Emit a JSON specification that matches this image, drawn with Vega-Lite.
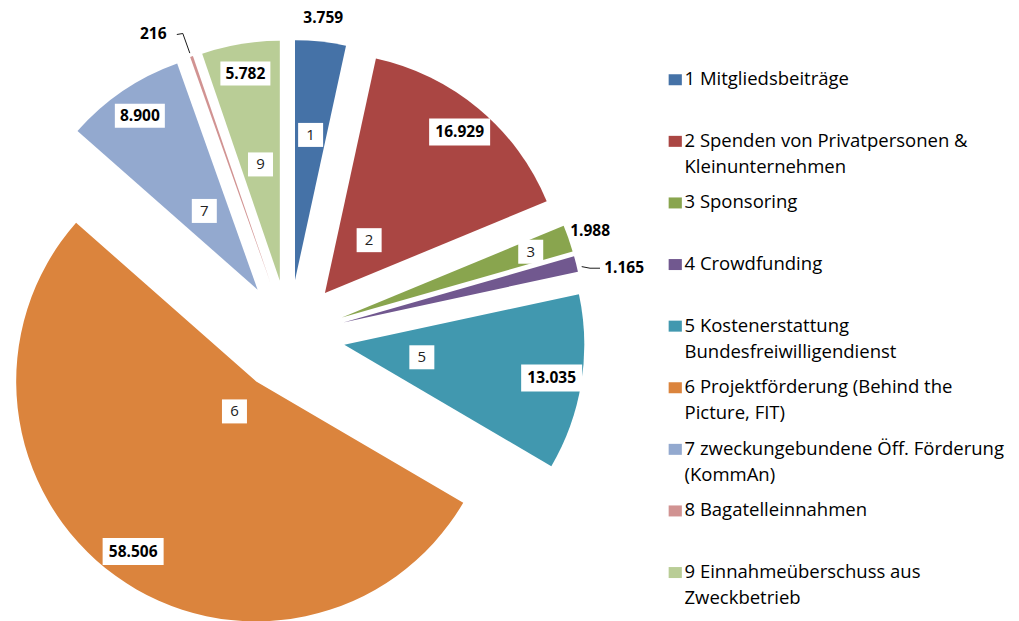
{
  "$schema": "https://vega.github.io/schema/vega-lite/v6.json",
  "autosize": {"type": "none"},
  "padding": {"left": 0, "top": 51, "right": 441, "bottom": 0},
  "width": 578,
  "height": 570,
  "background": "white",
  "config": {
    "view": {"stroke": null},
    "locale": {"number": {"decimal": ",", "thousands": ".", "grouping": [3], "currency": ["", " €"]}}
  },
  "data": {
    "values": [
      {"nr": 1, "kategorie": "1 Mitgliedsbeiträge", "value": 3759},
      {"nr": 2, "kategorie": "2 Spenden von Privatpersonen & Kleinunternehmen", "value": 16929},
      {"nr": 3, "kategorie": "3 Sponsoring", "value": 1988},
      {"nr": 4, "kategorie": "4 Crowdfunding", "value": 1165},
      {"nr": 5, "kategorie": "5 Kostenerstattung Bundesfreiwilligendienst", "value": 13035},
      {"nr": 6, "kategorie": "6 Projektförderung (Behind the Picture, FIT)", "value": 58506},
      {"nr": 7, "kategorie": "7 zweckungebundene Öff. Förderung (KommAn)", "value": 8900},
      {"nr": 8, "kategorie": "8 Bagatelleinnahmen", "value": 216},
      {"nr": 9, "kategorie": "9 Einnahmeüberschuss aus Zweckbetrieb", "value": 5782}
    ]
  },
  "transform": [
    {"joinaggregate": [{"op": "sum", "field": "value", "as": "total"}]},
    {"stack": "value", "groupby": [], "sort": [{"field": "nr", "order": "ascending"}], "as": ["v0", "v1"]}
  ],
  "layer": [
    {
      "mark": {
        "type": "arc",
        "outerRadius": 240,
        "x": {"expr": "width/2 + 56*sin(PI*(datum.v0+datum.v1)/datum.total)"},
        "y": {"expr": "height/2 - 56*cos(PI*(datum.v0+datum.v1)/datum.total)"}
      },
      "encoding": {
        "theta": {"field": "value", "type": "quantitative", "stack": true},
        "order": {"field": "nr", "type": "quantitative", "sort": "ascending"},
        "color": {
          "field": "kategorie",
          "type": "nominal",
          "scale": {
            "domain": [
              "1 Mitgliedsbeiträge",
              "2 Spenden von Privatpersonen & Kleinunternehmen",
              "3 Sponsoring",
              "4 Crowdfunding",
              "5 Kostenerstattung Bundesfreiwilligendienst",
              "6 Projektförderung (Behind the Picture, FIT)",
              "7 zweckungebundene Öff. Förderung (KommAn)",
              "8 Bagatelleinnahmen",
              "9 Einnahmeüberschuss aus Zweckbetrieb"
            ],
            "range": ["#4572A7", "#AA4643", "#89A54E", "#71588F", "#4198AF", "#DB843D", "#93A9CF", "#D19392", "#B9CD96"]
          },
          "legend": {
            "orient": "none",
            "legendX": 666,
            "legendY": 25,
            "padding": 0,
            "title": null,
            "symbolType": "M-1.2,-2H1.2V0H-1.2Z",
            "symbolSize": 121,
            "symbolStrokeWidth": 0,
            "labelFont": "Open Sans",
            "labelFontSize": 18.5,
            "labelColor": "#000000",
            "labelBaseline": "alphabetic",
            "labelLimit": 400,
            "labelOffset": 0,
            "gridAlign": "all",
            "rowPadding": 16.6,
            "labelExpr": "split(replace(datum.label, regexp(' (Kleinunternehmen|Bundesfreiwilligendienst|Picture|[(]KommAn|Zweckbetrieb)'), '\\n$1'), '\\n')",
            "encoding": {"labels": {"lineHeight": {"value": 26}}}
          }
        }
      }
    },
    {
      "transform": [{"filter": "datum.value/datum.total >= 0.04"}],
      "mark": {
        "type": "point",
        "filled": true,
        "fill": "white",
        "opacity": 1,
        "strokeWidth": 0,
        "size": 4,
        "shape": {"expr": "datum.value >= 10000 ? 'M-30.5,-13.5H30.5V13.5H-30.5Z' : 'M-25,-12H25V12H-25Z'"},
        "x": {"expr": "width/2 + 266*sin(PI*(datum.v0+datum.v1)/datum.total)"},
        "y": {"expr": "height/2 - 266*cos(PI*(datum.v0+datum.v1)/datum.total)"}
      },
      "encoding": {}
    },
    {
      "transform": [{"filter": "datum.nr != 4 && datum.nr != 8"}],
      "mark": {
        "type": "point",
        "filled": true,
        "fill": "white",
        "opacity": 1,
        "strokeWidth": 0,
        "size": 4,
        "shape": "M-12.5,-12H12.5V12H-12.5Z",
        "x": {"expr": "width/2 + (56 + min(200, 27/sqrt((datum.v1-datum.v0)/datum.total)))*sin(PI*(datum.v0+datum.v1)/datum.total)"},
        "y": {"expr": "height/2 - (56 + min(200, 27/sqrt((datum.v1-datum.v0)/datum.total)))*cos(PI*(datum.v0+datum.v1)/datum.total)"}
      },
      "encoding": {}
    },
    {
      "transform": [{"filter": "datum.nr == 4 || datum.nr == 8"}],
      "mark": {
        "type": "point",
        "filled": false,
        "stroke": "#000000",
        "strokeWidth": 0.9,
        "opacity": 1,
        "size": 4,
        "shape": {"expr": "datum.nr == 8 ? 'M-1.7,-3.4L-8.7,-23L-14.7,-22' : 'M5.6,2.6L13.9,4.2L23.9,4.2'"},
        "x": {"expr": "width/2 + 296*sin(PI*(datum.v0+datum.v1)/datum.total)"},
        "y": {"expr": "height/2 - 296*cos(PI*(datum.v0+datum.v1)/datum.total)"}
      },
      "encoding": {}
    },
    {
      "transform": [{"filter": "datum.value/datum.total >= 0.04"}],
      "mark": {
        "type": "text",
        "font": "Open Sans",
        "fontSize": 15.5,
        "fontWeight": "bold",
        "color": "#000000",
        "align": "center",
        "baseline": "middle",
        "x": {"expr": "width/2 + 266*sin(PI*(datum.v0+datum.v1)/datum.total)"},
        "y": {"expr": "height/2 - 266*cos(PI*(datum.v0+datum.v1)/datum.total)"}
      },
      "encoding": {
        "text": {"field": "value", "type": "quantitative", "format": ",d"}
      }
    },
    {
      "transform": [{"filter": "datum.value/datum.total < 0.04"}],
      "mark": {
        "type": "text",
        "font": "Open Sans",
        "fontSize": 15.5,
        "fontWeight": "bold",
        "color": "#000000",
        "align": "center",
        "baseline": "middle",
        "x": {"expr": "width/2 + (datum.nr == 4 ? 342 : datum.nr == 8 ? 331 : 302 + 12*abs(sin(PI*(datum.v0+datum.v1)/datum.total)) + 17*abs(cos(PI*(datum.v0+datum.v1)/datum.total)))*sin(PI*(datum.v0+datum.v1)/datum.total + (datum.nr == 4 ? 0.045 : datum.nr == 8 ? -0.087 : 0))"},
        "y": {"expr": "height/2 - (datum.nr == 4 ? 342 : datum.nr == 8 ? 331 : 302 + 12*abs(sin(PI*(datum.v0+datum.v1)/datum.total)) + 17*abs(cos(PI*(datum.v0+datum.v1)/datum.total)))*cos(PI*(datum.v0+datum.v1)/datum.total + (datum.nr == 4 ? 0.045 : datum.nr == 8 ? -0.087 : 0))"}
      },
      "encoding": {
        "text": {"field": "value", "type": "quantitative", "format": ",d"}
      }
    },
    {
      "transform": [{"filter": "datum.nr != 4 && datum.nr != 8"}],
      "mark": {
        "type": "text",
        "font": "Open Sans",
        "fontSize": 15,
        "color": "#222222",
        "align": "center",
        "baseline": "middle",
        "x": {"expr": "width/2 + (56 + min(200, 27/sqrt((datum.v1-datum.v0)/datum.total)))*sin(PI*(datum.v0+datum.v1)/datum.total)"},
        "y": {"expr": "height/2 - (56 + min(200, 27/sqrt((datum.v1-datum.v0)/datum.total)))*cos(PI*(datum.v0+datum.v1)/datum.total)"}
      },
      "encoding": {
        "text": {"field": "nr", "type": "nominal"}
      }
    }
  ]
}
